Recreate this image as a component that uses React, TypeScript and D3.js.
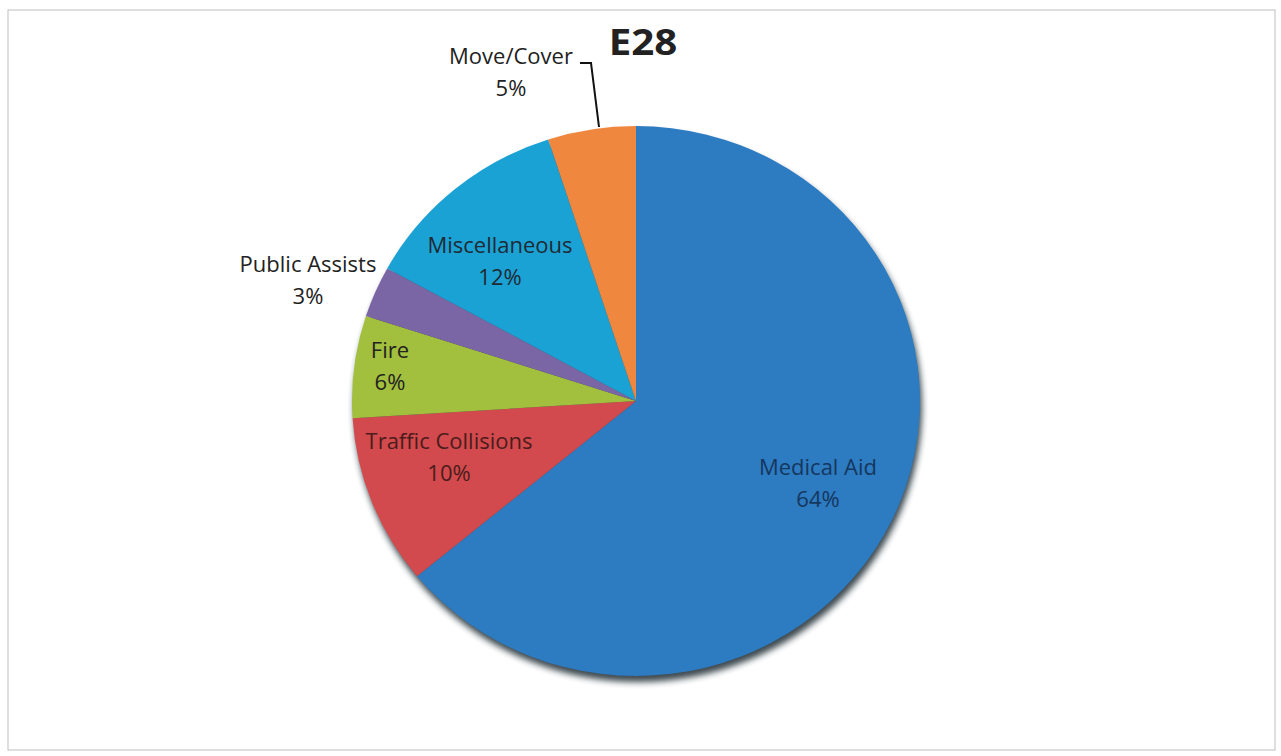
import React from "react";
import * as d3 from "d3";

const categories = ["Medical Aid", "Traffic Collisions", "Fire", "Public Assists", "Miscellaneous", "Move/Cover"];
const values = [64, 10, 6, 3, 12, 5];
const percentLabels = ["64%", "10%", "6%", "3%", "12%", "5%"];
const colors = ["#2d7bc1", "#d24a4d", "#a2bf3d", "#7b66a5", "#1ba2d5", "#f0873e"];
const labelColors = ["#15375e", "#4a1c1c", "#222", "#222", "#1f2a33", "#222"];
const title = "E28";

const W = 1281;
const H = 756;
const cx = 636;
const cy = 401;
const rx = 284;
const ry = 275;

// label anchor positions (center of two-line label)
const labelPos: [number, number][] = [
  [818, 483],
  [449, 457],
  [390, 366],
  [308, 280],
  [500, 261],
  [511, 72],
];

export default function App() {
  const pie = d3.pie<number>().sort(null).value((d) => d);
  const arcs = pie(values);
  const arc = d3.arc<d3.PieArcDatum<number>>().innerRadius(0).outerRadius(1);
  const font = "Open Sans, Lato, sans-serif";

  return (
    <div style={{ position: "absolute", left: 0, top: 0 }}>
      <svg width={W} height={H} style={{ display: "block", background: "#fff" }}>
        <defs>
          <filter id="shadow" x="-20%" y="-20%" width="140%" height="140%">
            <feGaussianBlur stdDeviation="3" />
          </filter>
        </defs>
        <rect x={8} y={10} width={1267} height={740} fill="#fff" stroke="#c8c8c8" strokeWidth={1.2} />
        {/* shadow */}
        <ellipse cx={cx + 2} cy={cy + 6} rx={rx} ry={ry} fill="#1d2a33" opacity={0.85} filter="url(#shadow)" />
        <g transform={`translate(${cx},${cy}) scale(${rx},${ry})`}>
          {arcs.map((a, i) => (
            <path key={categories[i]} d={arc(a) || ""} fill={colors[i]} />
          ))}
        </g>
        {/* leader line for Move/Cover */}
        <polyline points="580,63 591,63 599,127" fill="none" stroke="#111" strokeWidth={2} />
        {categories.map((c, i) => (
          <g key={c} fontFamily={font} fontSize={22} fill={labelColors[i]} textAnchor="middle">
            <text x={labelPos[i][0]} y={labelPos[i][1] - 8}>{c}</text>
            <text x={labelPos[i][0]} y={labelPos[i][1] + 24}>{percentLabels[i]}</text>
          </g>
        ))}
        <g transform="translate(643,55) scale(1.15,1)">
          <text x={0} y={0} textAnchor="middle" fontFamily={font} fontWeight="bold" fontSize={35} fill="#222">
            {title}
          </text>
        </g>
      </svg>
    </div>
  );
}
